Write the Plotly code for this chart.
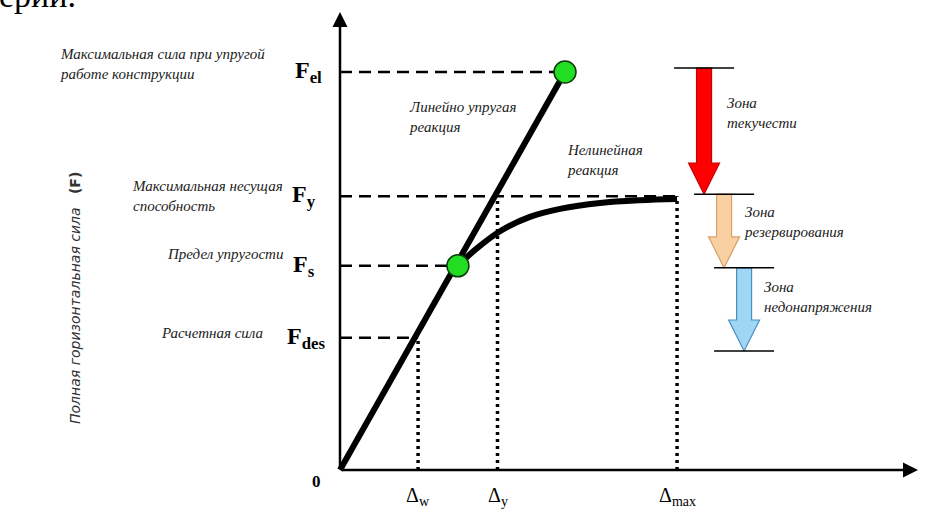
import plotly.graph_objects as go

# ---------------- data (displacement units: Δ at F_el = 1; force units: F_el = 1)
force_names = ["F<sub>el</sub>", "F<sub>y</sub>", "F<sub>s</sub>", "F<sub>des</sub>"]
force_values = [1.0, 0.688, 0.513, 0.332]
force_line_end = [1.0, 1.498, 0.524, 0.347]   # where each dashed line stops (x)

disp_names = ["Δ<sub>w</sub>", "Δ<sub>y</sub>", "Δ<sub>max</sub>"]
disp_values = [0.347, 0.70, 1.498]
disp_line_top = [0.332, 0.688, 0.688]

linear_x = [0.0, 1.0]
linear_y = [0.0, 1.0]

curve_x = [0.524, 0.600, 0.711, 0.844, 0.978, 1.156, 1.333, 1.498]
curve_y = [0.513, 0.553, 0.600, 0.636, 0.656, 0.671, 0.678, 0.681]

points_x = [1.0, 0.524]
points_y = [1.0, 0.513]

zone_names = ["Зона<br>текучести", "Зона<br>резервирования", "Зона<br>недонапряжения"]
zone_top = [1.010, 0.693, 0.508]
zone_bottom = [0.693, 0.508, 0.299]
zone_x = [1.618, 1.707, 1.796]
zone_fill = ["#ff0000", "#f9d0a2", "#9fd6f4"]
zone_edge = ["#c80000", "#d9a066", "#4b8fc2"]

# ---------------- geometry helpers (pixel layout of the 942x510 canvas)
W, H = 942, 510
X0, SX = 340, 225.0
Y0, SY = 470, 398.0
x_range = [-X0 / SX, (W - X0) / SX]
y_range = [-(H - Y0) / SY, Y0 / SY]


def px(v):
    return v / W


def py(v):
    return 1 - v / H


fig = go.Figure()

# dashed force levels
for f, xe in zip(force_values, force_line_end):
    fig.add_trace(go.Scatter(x=[0, xe], y=[f, f], mode="lines",
                             line=dict(color="black", width=2.5, dash="12px,7px"),
                             hoverinfo="skip", showlegend=False))
# dotted displacement levels
for d, ft in zip(disp_values, disp_line_top):
    fig.add_trace(go.Scatter(x=[d, d], y=[0, ft], mode="lines",
                             line=dict(color="black", width=3.5, dash="3px,4px"),
                             hoverinfo="skip", showlegend=False))
# response lines
fig.add_trace(go.Scatter(x=linear_x, y=linear_y, mode="lines",
                         line=dict(color="black", width=6),
                         hoverinfo="skip", showlegend=False))
fig.add_trace(go.Scatter(x=curve_x, y=curve_y, mode="lines",
                         line=dict(color="black", width=6, shape="spline"),
                         hoverinfo="skip", showlegend=False))
fig.add_trace(go.Scatter(x=points_x, y=points_y, mode="markers",
                         marker=dict(size=22, color="#22dd22",
                                     line=dict(color="#0a3a0a", width=1.5)),
                         hoverinfo="skip", showlegend=False))

shapes = []
# zone arrows
shaft_hw = 7.5 / SX
head_hw = 15.5 / SX
head_len = 31 / SY
bar_hw = 30 / SX
for top, bot, xc, fc, ec in zip(zone_top, zone_bottom, zone_x, zone_fill, zone_edge):
    hb = bot + head_len
    path = (f"M {xc - shaft_hw},{top} L {xc + shaft_hw},{top} L {xc + shaft_hw},{hb} "
            f"L {xc + head_hw},{hb} L {xc},{bot} L {xc - head_hw},{hb} "
            f"L {xc - shaft_hw},{hb} Z")
    shapes.append(dict(type="path", path=path, xref="x", yref="y",
                       fillcolor=fc, line=dict(color=ec, width=1.2), layer="above"))
    shapes.append(dict(type="line", xref="x", yref="y", x0=xc - bar_hw, x1=xc + bar_hw,
                       y0=top, y1=top, line=dict(color="black", width=1.5)))
shapes.append(dict(type="line", xref="x", yref="y",
                   x0=zone_x[-1] - bar_hw, x1=zone_x[-1] + bar_hw,
                   y0=zone_bottom[-1], y1=zone_bottom[-1],
                   line=dict(color="black", width=1.5)))

ann = []
# axes with arrows
ann.append(dict(x=0, y=(Y0 - 12) / SY, ax=0, ay=0, xref="x", yref="y", axref="x", ayref="y",
                showarrow=True, arrowhead=2, arrowsize=1.2, arrowwidth=2.5,
                arrowcolor="black", text=""))
ann.append(dict(x=(918 - X0) / SX, y=0, ax=0, ay=0, xref="x", yref="y", axref="x", ayref="y",
                showarrow=True, arrowhead=2, arrowsize=1.2, arrowwidth=2.5,
                arrowcolor="black", text=""))

serif = "Liberation Serif, DejaVu Serif, serif"
desc_font = dict(family=serif, size=15, color="#222222")
big_font = dict(family=serif, size=24, color="black")

# force labels
force_label_px = [308, 304, 304, 306]
for name, f, lx in zip(force_names, force_values, force_label_px):
    ann.append(dict(x=px(lx), y=f, xref="paper", yref="y", text=f"<b>{name}</b>",
                    showarrow=False, font=big_font, xanchor="center", yanchor="middle"))

# displacement labels
for name, d in zip(disp_names, disp_values):
    ann.append(dict(x=d, y=py(496), xref="x", yref="paper", text=name, showarrow=False,
                    font=dict(family=serif, size=20, color="black"),
                    xanchor="center", yanchor="middle"))
ann.append(dict(x=px(316), y=py(493), xref="paper", yref="paper", text="<b>0</b>",
                showarrow=False, font=dict(family=serif, size=17, color="black")))

# descriptions
descs = [
    ("<i>Максимальная сила при упругой<br>работе конструкции</i>", 58, 64, "left"),
    ("<i>Максимальная несущая<br>способность</i>", 130, 196, "left"),
    ("<i>Предел упругости</i>", 285, 254, "right"),
    ("<i>Расчетная сила</i>", 265, 333, "right"),
    ("<i>Линейно упругая<br>реакция</i>", 407, 117, "left"),
    ("<i>Нелинейная<br>реакция</i>", 565, 160, "left"),
]
for t, x, y, al in descs:
    ann.append(dict(x=px(x), y=py(y), xref="paper", yref="paper", text=t, showarrow=False,
                    font=desc_font, xanchor=al, yanchor="middle", align="left"))

zone_text_px = [(725, 113), (742, 222), (762, 297)]
for t, (x, y) in zip(zone_names, zone_text_px):
    ann.append(dict(x=px(x), y=py(y), xref="paper", yref="paper", text=f"<i>{t}</i>",
                    showarrow=False, font=desc_font, xanchor="left", yanchor="middle",
                    align="left"))

# y axis title
ann.append(dict(x=px(75), y=py(298), xref="paper", yref="paper",
                text="<i>Полная горизонтальная сила</i>   <b>(F)</b>", textangle=-90,
                showarrow=False, font=dict(family="DejaVu Sans", size=14, color="#333333"),
                xanchor="center", yanchor="middle"))

# cropped text fragment at the top-left corner
ann.append(dict(x=px(-3), y=py(16), xref="paper", yref="paper", text="ерии.",
                showarrow=False, font=dict(family=serif, size=34, color="black"),
                xanchor="left", yanchor="bottom"))

fig.update_layout(
    width=W, height=H, margin=dict(l=0, r=0, t=0, b=0),
    paper_bgcolor="white", plot_bgcolor="white",
    xaxis=dict(range=x_range, visible=False, fixedrange=True),
    yaxis=dict(range=y_range, visible=False, fixedrange=True),
    shapes=shapes, annotations=ann, showlegend=False,
)

fig.write_html("out.html", config={"displayModeBar": False},
               post_script="document.body.style.margin='0';document.body.style.overflow='hidden';")
